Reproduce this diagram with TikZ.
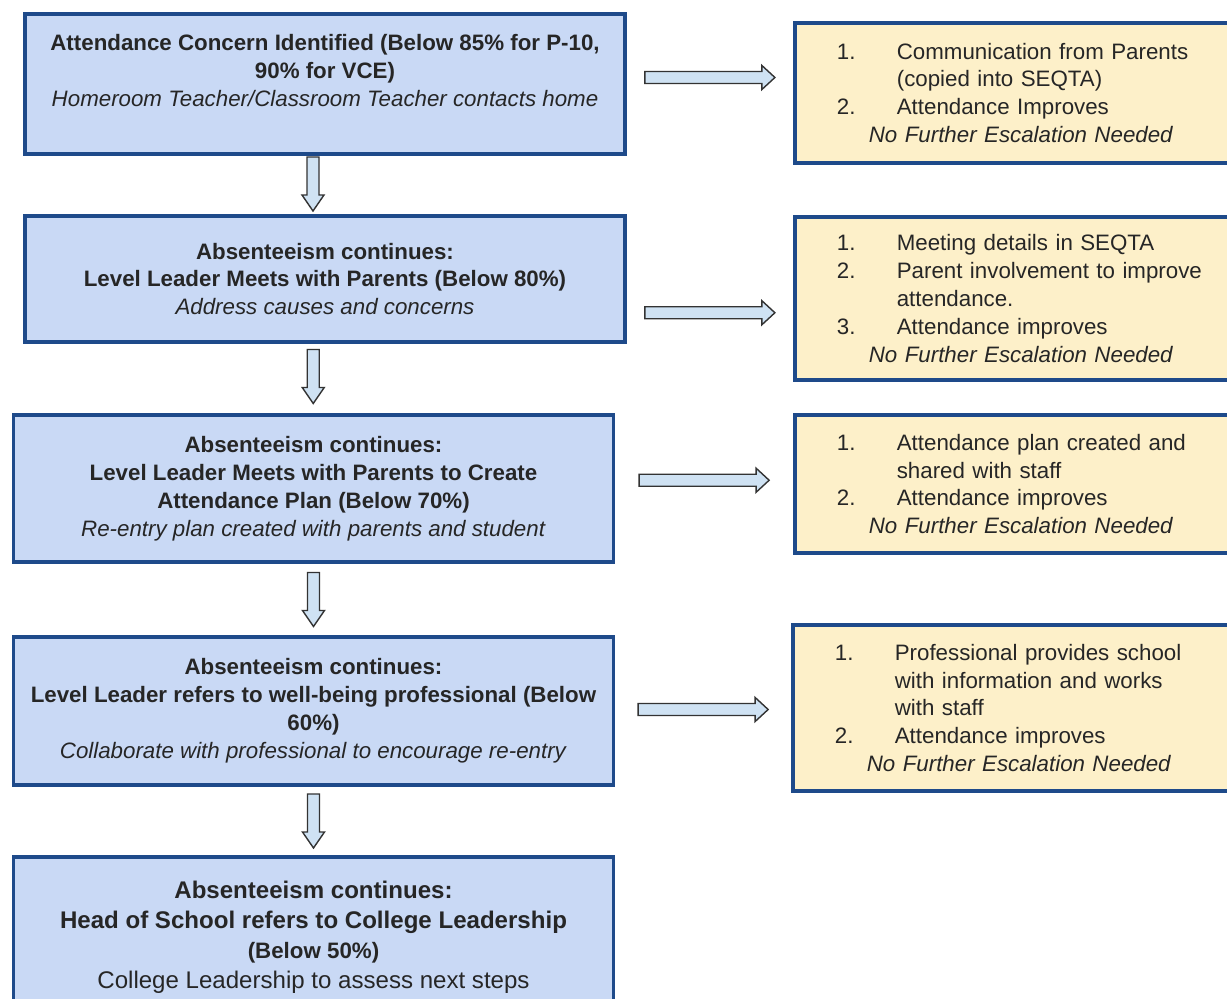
\documentclass[tikz,border=0pt]{standalone}
\usepackage{fontspec}
\setmainfont{Liberation Sans}
\usetikzlibrary{calc}
\definecolor{edge}{HTML}{1E4A8A}
\definecolor{bluefill}{HTML}{C9D9F5}
\definecolor{creamfill}{HTML}{FDF0C9}
\definecolor{arrfill}{HTML}{CFE2F3}
\def\darr{++(-6,-27) -- ++(12,0) -- ++(0,38) -- ++(5,0) -- ++(-11,16) -- ++(-11,-16) -- ++(5,0) -- cycle}
\def\rarr{++(-65,-6) -- ++(117,0) -- ++(0,-6) -- ++(13,12) -- ++(-13,12) -- ++(0,-6) -- ++(-117,0) -- cycle}
\newcommand\itm[1]{\makebox[1.2cm][l]{#1}}
\newcommand\ind{\hspace*{1.2cm}}
\newcommand\nfe{\hspace*{0.64cm}\textit{No Further Escalation Needed}}
\tikzset{
  lbox/.style={draw=edge,line width=2.1pt,fill=bluefill,minimum width=12cm,align=center,
    text=black!85,font=\fontsize{12.7}{15.9}\selectfont},
  rbox/.style={draw=edge,line width=2.1pt,fill=creamfill,anchor=west,text width=8cm,
    inner xsep=0.84cm,align=left,text=black!85,font=\fontsize{12.7}{15.9}\selectfont},
  blk/.style={draw=black!80,fill=arrfill,line width=0.8pt}
}

\begin{document}
\begin{tikzpicture}[x=0.02cm,y=-0.02cm]
  \useasboundingbox (0,0) rectangle (1227,999);
  \clip (0,0) rectangle (1227,999);

  \node[lbox,minimum height=2.8cm] (b1) at (325,84)
    {\textbf{Attendance Concern Identified (Below 85\% for P-10,}\\
     \textbf{90\% for VCE)}\\
     \textit{Homeroom Teacher/Classroom Teacher contacts home}\\ \mbox{}};
  \node[lbox,minimum height=2.52cm] (b2) at (325,279)
    {\textbf{Absenteeism continues:}\\
     \textbf{Level Leader Meets with Parents (Below 80\%)}\\
     \textit{Address causes and concerns}};
  \node[lbox,minimum height=2.94cm] (b3) at (313.5,488.5)
    {\textbf{Absenteeism continues:}\\
     \textbf{Level Leader Meets with Parents to Create}\\
     \textbf{Attendance Plan (Below 70\%)}\\
     \textit{Re-entry plan created with parents and student}};
  \node[lbox,minimum height=2.96cm] (b4) at (313.5,711)
    {\textbf{Absenteeism continues:}\\
     \textbf{Level Leader refers to well-being professional (Below}\\
     \textbf{60\%)}\\
     \textit{Collaborate with professional to encourage re-entry}};
  \node[lbox,minimum height=3.2cm,font=\fontsize{13.7}{17}\selectfont] (b5) at (313.5,937)
    {\textbf{Absenteeism continues:}\\
     \textbf{Head of School refers to College Leadership}\\
     {\fontsize{12.7}{17}\selectfont\textbf{(Below 50\%)}}\\
     College Leadership to assess next steps};

  \node[rbox,minimum height=2.8cm] (r1) at (793,93)
    {\itm{1.}Communication from Parents\\
     \ind(copied into SEQTA)\\
     \itm{2.}Attendance Improves\\
     \nfe};
  \node[rbox,minimum height=3.26cm] (r2) at (793,298.5)
    {\itm{1.}Meeting details in SEQTA\\
     \itm{2.}Parent involvement to improve\\
     \ind attendance.\\
     \itm{3.}Attendance improves\\
     \nfe};
  \node[rbox,minimum height=2.76cm] (r3) at (793,484)
    {\itm{1.}Attendance plan created and\\
     \ind shared with staff\\
     \itm{2.}Attendance improves\\
     \nfe};
  \node[rbox,minimum height=3.32cm] (r4) at (791,708)
    {\itm{1.}Professional provides school\\
     \ind with information and works\\
     \ind with staff\\
     \itm{2.}Attendance improves\\
     \nfe};

  \draw[blk] ($(b1.south)!0.5!(b2.north)+(-12,-1)$) \darr;
  \draw[blk] ($(b2.south)!0.5!(b3.north)+(-6,-2)$) \darr;
  \draw[blk] ($(b3.south)!0.5!(b4.north)$) \darr;
  \draw[blk] ($(b4.south)!0.5!(b5.north)$) \darr;

  \draw[blk] ($(b1.east)!0.5!(r1.west)+(0,-11)$) \rarr;
  \draw[blk] ($(b2.east)!0.5!(r2.west)+(0,24)$) \rarr;
  \draw[blk] ($(b3.east)!0.5!(r3.west)+(0,-6)$) \rarr;
  \draw[blk] ($(b4.east)!0.5!(r4.west)$) \rarr;
\end{tikzpicture}
\end{document}
